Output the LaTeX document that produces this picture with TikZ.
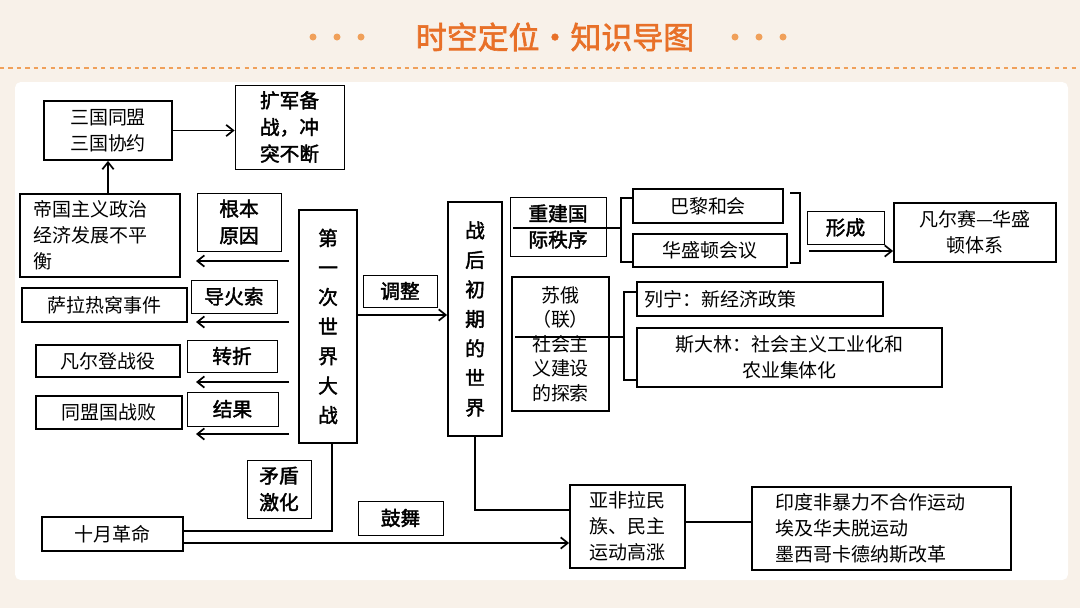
\documentclass[tikz,border=0pt]{standalone}
\usepackage{fontspec}
\setmainfont{Noto Sans CJK SC}
\newfontfamily\boldcjk{Noto Sans CJK SC}[FakeBold=2]
\usetikzlibrary{fit,arrows.meta}
\definecolor{titleorange}{RGB}{232,112,40}
\definecolor{dotorange}{RGB}{240,160,90}
\definecolor{paper}{RGB}{248,241,233}

\begin{document}
\begin{tikzpicture}[x=0.025cm,y=-0.025cm,
    every node/.style={inner sep=0pt, font=\fontsize{13.5}{18.5}\selectfont},
    tbox/.style={draw, line width=1.3pt},
    lbox/.style={draw, line width=0.6pt},
    btext/.style={font=\boldcjk\fontsize{14}{19}\selectfont},
    conn/.style={line width=1.2pt},
    arr/.style={conn, -{Straight Barb[length=5pt,width=8pt]}}]
  % background and title
  \fill[paper] (0,0) rectangle (1080,608);
  \fill[white, rounded corners=4pt] (15,82) rectangle (1068,580);
  \useasboundingbox (0,0) rectangle (1080,608);
  \node[text=titleorange, font=\boldcjk\fontsize{22}{24}\selectfont] (title) at (555,37) {时空定位•知识导图};
  \foreach \x in {313,337,361,735,759,783}
    \fill[dotorange] (\x,37) circle (3.5);
  \draw[dotorange, line width=1pt, dash pattern=on 3pt off 3pt] (0,68) -- (1080,68);

  % left side
  \node[tbox, fit={(44,101) (172,160)}] (alliance) {};
  \node[align=left] at (alliance) {三国同盟\\三国协约};
  \node[lbox, fit={(235,85) (344,169)}] (arms) {};
  \node[btext, align=center] at (arms) {扩军备\\战，冲\\突不断};
  \node[tbox, fit={(20,194) (180,277)}] (uneven) {};
  \node[align=left] at (uneven) {帝国主义政治\\经济发展不平\\衡\phantom{经济发展不平}};
  \node[lbox, fit={(197,193) (281,251)}] (rootcause) {};
  \node[btext, align=center] at (rootcause) {根本\\原因};
  \node[tbox, fit={(299,210) (357,443)}] (ww1) {};
  \node[align=center, font=\boldcjk\fontsize{14}{21}\selectfont] at (ww1) {第\\一\\次\\世\\界\\大\\战};
  \node[tbox, fit={(22,288) (187,322)}] (sarajevo) {};
  \node at (sarajevo) {萨拉热窝事件};
  \node[lbox, fit={(191,280) (277,313)}] (fuse) {};
  \node[btext] at (fuse) {导火索};
  \node[tbox, fit={(36,345) (180,377)}] (verdun) {};
  \node at (verdun) {凡尔登战役};
  \node[lbox, fit={(187,340) (277,372)}] (turn) {};
  \node[btext] at (turn) {转折};
  \node[tbox, fit={(36,396) (182,429)}] (defeat) {};
  \node at (defeat) {同盟国战败};
  \node[lbox, fit={(187,392) (278,426)}] (result) {};
  \node[btext] at (result) {结果};
  \node[lbox, fit={(247,460) (311,518)}] (conflict) {};
  \node[btext, align=center] at (conflict) {矛盾\\激化};
  \node[tbox, fit={(42,517) (183,551)}] (october) {};
  \node at (october) {十月革命};
  \node[lbox, fit={(358,501) (443,535)}] (inspire) {};
  \node[btext] at (inspire) {鼓舞};
  \node[lbox, fit={(363,275) (437,307)}] (adjust) {};
  \node[btext] at (adjust) {调整};
  \coordinate (a1) at (289,261); \coordinate (b1) at (196,261);
  \coordinate (a2) at (289,322); \coordinate (b2) at (196,322);
  \coordinate (a3) at (289,382); \coordinate (b3) at (196,382);
  \coordinate (a4) at (289,434); \coordinate (b4) at (196,434);
  \foreach \i in {1,2,3,4} \draw[arr] (a\i) -- (b\i);
  \draw[arr] (alliance.east) -- (alliance.east -| arms.west);
  \draw[arr] (uneven.north -| alliance.south) -- (alliance.south);
  \draw[conn] (october.east |- 0,531) -| (ww1.south -| 332,0);

  % right side
  \node[tbox, fit={(448,202) (502,436)}] (postwar) {};
  \node[align=center, font=\boldcjk\fontsize{14}{21}\selectfont] at (postwar) {战\\后\\初\\期\\的\\世\\界};
  \draw[arr] (ww1.east |- 0,315) -- (postwar.west |- 0,315);
  \node[lbox, fit={(510,197) (606,256)}] (order) {};
  \node[align=center, font=\boldcjk\fontsize{14}{18.5}\selectfont] at (order) {重建国\\际秩序};
  \draw[line width=1.3pt] (513,228) -- (order.east |- 0,228);
  \node[tbox, fit={(633,189) (783,223)}] (paris) {};
  \node at (paris) {巴黎和会};
  \node[tbox, fit={(633,234) (787,267)}] (washington) {};
  \node at (washington) {华盛顿会议};
  \draw[conn] (633,198) -- (621,198) -- (621,262) -- (633,262);
  \draw[conn] (order.east |- 0,228) -- (621,228);
  \draw[conn] (790,193) -- (800,193) -- (800,263) -- (790,263);
  \node[lbox, fit={(807,211) (884,244)}] (form) {};
  \node[btext] at (form) {形成};
  \node[tbox, fit={(894,203) (1056,262)}] (system) {};
  \node[align=center] at (system) {凡尔赛—华盛\\顿体系};
  \draw[arr] (809,251) -- (system.west |- 0,251);
  \node[tbox, fit={(512,277) (609,411)}] (soviet) {};
  \node[align=center, font=\fontsize{13.5}{17.5}\selectfont] at (soviet) {苏俄\\（联）\\社会主\\义建设\\的探索};
  \draw[line width=1.3pt] (515,337) -- (soviet.east |- 0,337);
  \node[tbox, fit={(637,282) (883,316)}] (lenin) {};
  \node[anchor=west] at ([xshift=6pt]lenin.west) {列宁：新经济政策};
  \node[tbox, fit={(637,328) (942,387)}] (stalin) {};
  \node[align=center] at (stalin) {斯大林：社会主义工业化和\\农业集体化};
  \draw[conn] (637,292) -- (624,292) -- (624,380) -- (637,380);
  \draw[conn] (soviet.east |- 0,337) -- (624,337);
  \node[tbox, fit={(570,485) (685,568)}] (rise) {};
  \node[align=left] at (rise) {亚非拉民\\族、民主\\运动高涨};
  \node[tbox, fit={(752,487) (1011,570)}] (movements) {};
  \node[align=left] at ([xshift=-8pt]movements) {印度非暴力不合作运动\\埃及华夫脱运动\\墨西哥卡德纳斯改革};
  \draw[conn] (postwar.south -| 475,0) |- (rise.west |- 0,510);
  \draw[conn] (rise.east |- 0,522) -- (movements.west |- 0,522);
  \draw[arr] (october.east |- 0,543) -- (rise.west |- 0,543);
\end{tikzpicture}
\end{document}
